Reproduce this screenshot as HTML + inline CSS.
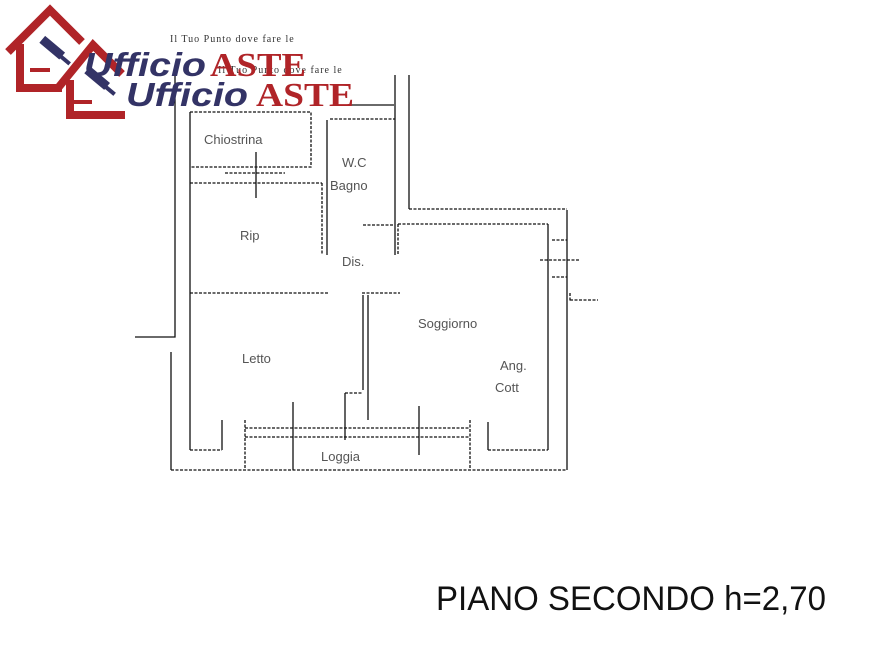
<!DOCTYPE html>
<html><head><meta charset="utf-8"><style>
html,body{margin:0;padding:0;background:#fff;width:882px;height:652px;overflow:hidden}
svg{display:block}
</style></head><body>
<svg width="882" height="652" viewBox="0 0 882 652" xmlns="http://www.w3.org/2000/svg">
<g stroke="#111" stroke-width="1.3" fill="none">
<path d="M175 75 V337 H135"/>
<path d="M171 352 V470"/>
<path d="M409 75 V209"/>
<path d="M395 75 V255"/>
<path d="M567 210 V470"/>
<path d="M548 224 V450"/>
<path d="M190 112 V450"/>
<path d="M327 120 V255"/>
<path d="M488 422 V450"/>
<path d="M222 420 V450"/>
<path d="M350 105 H394"/>
<path d="M256 152 V198"/>
<path d="M293 402 V470"/>
<path d="M419 406 V455"/>
<path d="M345 393 V440"/>
<path d="M368 295 V420"/>
<path d="M363 295 V390"/>
</g>
<g stroke="#111" stroke-width="1.3" fill="none" stroke-dasharray="3 1.5">
<path d="M190 112 H311 V167 H190"/>
<path d="M190 183 H322"/>
<path d="M225 173 H285"/>
<path d="M190 293 H328"/>
<path d="M330 119 H395"/>
<path d="M322 183 V255"/>
<path d="M398 224 H548"/>
<path d="M398 224 V255"/>
<path d="M362 293 H400"/>
<path d="M409 209 H567"/>
<path d="M190 450 H222"/>
<path d="M488 450 H548"/>
<path d="M171 470 H567"/>
<path d="M245 428 H470"/>
<path d="M245 437 H470"/>
<path d="M345 393 H363"/>
<path d="M470 420 V470"/>
<path d="M245 420 V470"/>
<path d="M552 240 H567 M540 260 H580 M552 277 H567 M570 300 H598 M570 293 V302"/>
<path d="M363 225 H393"/>
</g>
<g font-family="Liberation Sans, sans-serif" font-size="13" fill="#555">
<text x="204" y="144">Chiostrina</text>
<text x="342" y="167">W.C</text>
<text x="330" y="190">Bagno</text>
<text x="240" y="240">Rip</text>
<text x="342" y="266">Dis.</text>
<text x="418" y="328">Soggiorno</text>
<text x="242" y="363">Letto</text>
<text x="500" y="370">Ang.</text>
<text x="495" y="392">Cott</text>
<text x="321" y="461">Loggia</text>
</g>
<text x="436" y="610" font-family="Liberation Sans, sans-serif" font-size="34" fill="#111" textLength="390" lengthAdjust="spacingAndGlyphs">PIANO SECONDO h=2,70</text>
<!-- logo -->
<g fill="none" stroke="#b02428" stroke-width="8" stroke-linejoin="miter">
<path d="M8 52 L50 10 L82 42 M20 44 V88 H62"/>
<path d="M58 88 L93 45 L122 74 M70 80 V115 H125"/>
</g>
<g fill="#333366">
<rect x="40" y="42" width="26" height="9" transform="rotate(40 51 46)"/>
<rect x="52" y="54" width="22" height="4" transform="rotate(40 61 54)"/>
<rect x="84" y="75" width="26" height="9" transform="rotate(40 99 79)"/>
<rect x="96" y="87" width="22" height="4" transform="rotate(40 109 87)"/>
</g>
<rect x="30" y="68" width="20" height="4" fill="#b02428"/>
<rect x="72" y="100" width="20" height="4" fill="#b02428"/>
<text x="170" y="42" font-family="Liberation Serif, serif" font-size="10" fill="#333" letter-spacing="1">Il Tuo Punto dove fare le</text>
<text x="218" y="73" font-family="Liberation Serif, serif" font-size="10" fill="#333" letter-spacing="1">Il Tuo Punto dove fare le</text>
<text x="84" y="76" font-family="Liberation Sans, sans-serif" font-style="italic" font-weight="bold" font-size="33" fill="#333366" textLength="122" lengthAdjust="spacingAndGlyphs">Ufficio</text>
<text x="210" y="76" font-family="Liberation Serif, serif" font-weight="bold" font-size="34" fill="#b02428" textLength="96" lengthAdjust="spacingAndGlyphs">ASTE</text>
<text x="126" y="106" font-family="Liberation Sans, sans-serif" font-style="italic" font-weight="bold" font-size="33" fill="#333366" textLength="122" lengthAdjust="spacingAndGlyphs">Ufficio</text>
<text x="256" y="106" font-family="Liberation Serif, serif" font-weight="bold" font-size="34" fill="#b02428" textLength="98" lengthAdjust="spacingAndGlyphs">ASTE</text>
</svg>
</body></html>
